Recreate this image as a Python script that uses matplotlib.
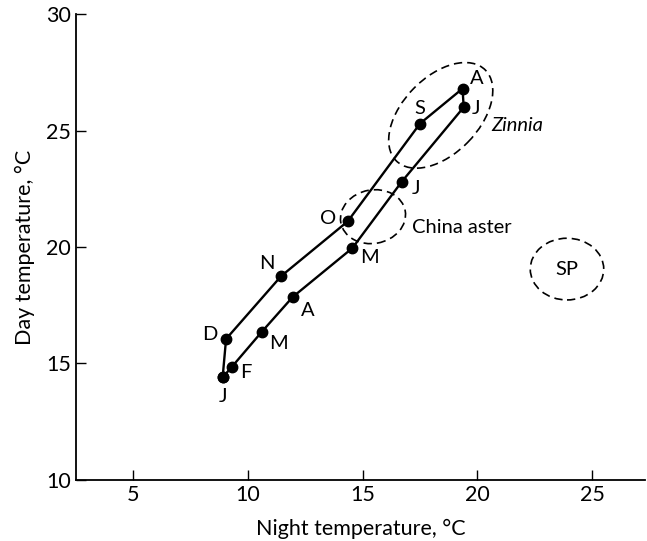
import matplotlib
matplotlib.use("Agg")
import matplotlib.pyplot as plt
from matplotlib.patches import Ellipse

plt.rcParams['font.family'] = ['Lato', 'DejaVu Sans']

# Monthly mean temperatures (night, day), Jan..Dec, loop closed
months = ["J", "F", "M", "A", "M", "J", "J", "A", "S", "O", "N", "D"]
night = [8.9, 9.3, 10.6, 11.95, 14.55, 16.7, 19.4, 19.35, 17.5, 14.35, 11.45, 9.05]
day = [14.4, 14.85, 16.35, 17.85, 19.95, 22.8, 26.0, 26.8, 25.3, 21.1, 18.75, 16.05]

# Optimum regions (centre x, centre y, width, height, angle)
region_names = ["Zinnia", "China aster", "SP"]
region_cx = [18.4, 15.45, 23.9]
region_cy = [25.65, 21.3, 19.05]
region_w = [5.5, 2.85, 3.2]
region_h = [3.3, 2.3, 2.65]
region_ang = [45, 10, 0]

xticks = [5, 10, 15, 20, 25]
yticks = [10, 15, 20, 25, 30]

fig = plt.figure(figsize=(6.47, 5.41), dpi=100)
ax = fig.add_axes([0.117, 0.113, 0.88, 0.861])
ax.set_xlim(2.5, 27.3)
ax.set_ylim(10, 30)

ax.plot(night + night[:1], day + day[:1], color='black', lw=1.7,
        marker='o', markersize=7.5, markerfacecolor='black', zorder=3)

offsets = [(0, -14), (10, -4), (12, -8), (11, -10), (12, -7), (10, -5),
           (9, -1), (10, 7), (0, 11), (-14, 2), (-10, 9), (-12, 3)]
for m, x, y, off in zip(months, night, day, offsets):
    ax.annotate(m, (x, y), xytext=off, textcoords='offset points',
                ha='center', va='center', fontsize=14.5)

for name, cx, cy, w, h, a in zip(region_names, region_cx, region_cy,
                                  region_w, region_h, region_ang):
    ax.add_patch(Ellipse((cx, cy), w, h, angle=a, fill=False, ls=(0, (5, 3)),
                         lw=1.2, color='black'))

ax.text(region_cx[0] + 2.2, region_cy[0] - 0.45, region_names[0], fontsize=14.5,
        style='italic', ha='left', va='center')
ax.text(region_cx[1] + 1.7, region_cy[1] - 0.45, region_names[1], fontsize=14.5,
        ha='left', va='center')
ax.text(region_cx[2], region_cy[2], region_names[2], fontsize=14.5,
        ha='center', va='center')

ax.spines['top'].set_visible(False)
ax.spines['right'].set_visible(False)
for s in ('left', 'bottom'):
    ax.spines[s].set_linewidth(1.3)
ax.set_xticks(xticks)
ax.set_yticks(yticks)
ax.tick_params(direction='in', length=7, labelsize=15.5, width=1)
ax.set_xlabel("Night temperature, °C", fontsize=15.5, labelpad=10)
ax.set_ylabel("Day temperature, °C", fontsize=15.5, labelpad=8)

fig.savefig("out.png", dpi=100)
